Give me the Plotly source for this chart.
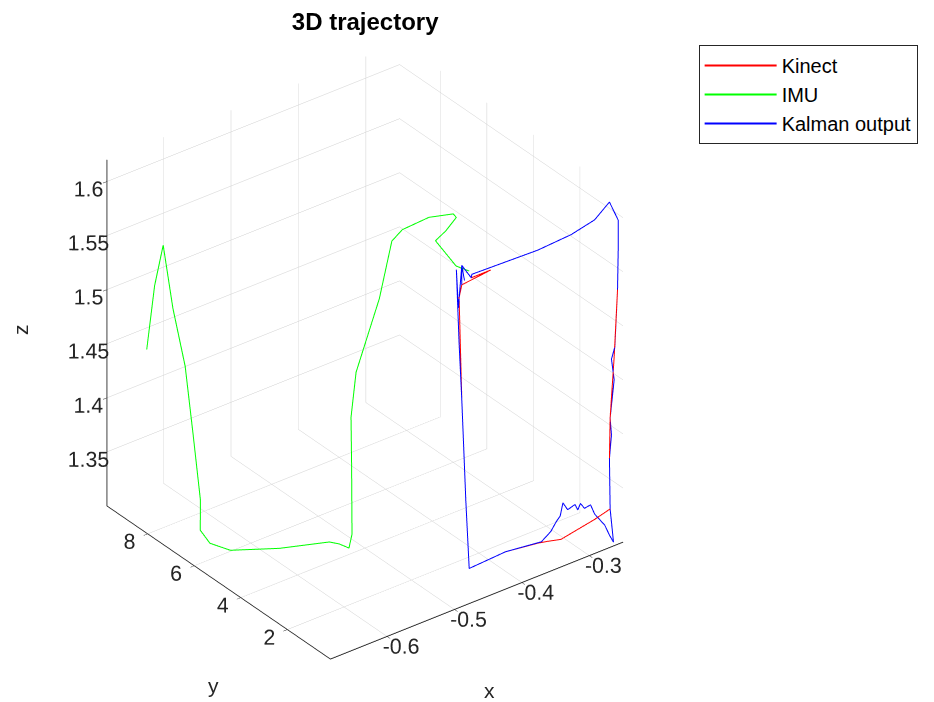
import plotly.graph_objects as go

# Kinect reference trajectory (metres)
kinect_x = [-0.484, -0.441, -0.470, -0.469, -0.419, -0.371, -0.322, -0.287, -0.265,
            -0.252, -0.252, -0.253, -0.258, -0.264, -0.265, -0.264,
            -0.287, -0.312, -0.337, -0.356, -0.371, -0.419, -0.473,
            -0.478, -0.484, -0.488, -0.484]
kinect_y = [0.30, 0.30, 0.30, 0.30, 0.30, 0.30, 0.30, 0.30, 0.30,
            0.30, 0.30, 0.30, 0.30, 0.30, 0.30, 0.30,
            0.30, 0.30, 0.30, 0.30, 0.30, 0.30, 0.30,
            0.30, 0.30, 0.30, 0.30]
kinect_z = [1.594, 1.597, 1.597, 1.600, 1.599, 1.598, 1.600, 1.605, 1.616,
            1.596, 1.569, 1.532, 1.471, 1.416, 1.379, 1.332,
            1.328, 1.325, 1.322, 1.325, 1.327, 1.331, 1.329,
            1.393, 1.488, 1.583, 1.594]

# IMU dead-reckoning trajectory (drifts along y)
imu_x = [-0.473, -0.471, -0.475, -0.453, -0.431, -0.429, -0.455, -0.488, -0.500,
         -0.512, -0.524, -0.540, -0.544, -0.540, -0.536, -0.537, -0.545, -0.553,
         -0.607, -0.660, -0.677, -0.683, -0.678, -0.676, -0.674, -0.679, -0.680,
         -0.653, -0.625]
imu_y = [0.30, 0.92, 1.69, 1.88, 2.07, 2.26, 2.55, 2.74, 2.84,
         3.03, 3.13, 3.22, 3.32, 3.41, 3.51, 3.61, 3.80, 3.99,
         4.57, 5.14, 5.53, 5.77, 5.91, 6.29, 6.68, 7.06, 7.45,
         8.60, 9.75]
imu_z = [1.604, 1.599, 1.612, 1.613, 1.617, 1.617, 1.616, 1.610, 1.601,
         1.548, 1.519, 1.484, 1.442, 1.393, 1.329, 1.315, 1.318, 1.319,
         1.318, 1.321, 1.326, 1.336, 1.361, 1.417, 1.472, 1.521, 1.574,
         1.513, 1.430]

# Kalman filter fused output
kalman_x = [-0.484, -0.484, -0.470, -0.469, -0.419, -0.371, -0.322, -0.287, -0.265,
            -0.252, -0.252, -0.253, -0.257, -0.262, -0.258, -0.264, -0.262, -0.265, -0.264,
            -0.259, -0.265, -0.272, -0.287, -0.293, -0.302, -0.308, -0.312, -0.316,
            -0.327, -0.334, -0.338, -0.344, -0.352, -0.366,
            -0.419, -0.473, -0.478, -0.484, -0.488, -0.492, -0.489, -0.484, -0.480]
kalman_y = [0.30] * len(kalman_x)
kalman_z = [1.594, 1.612, 1.597, 1.600, 1.599, 1.598, 1.600, 1.605, 1.616,
            1.596, 1.569, 1.532, 1.480, 1.470, 1.450, 1.416, 1.400, 1.379, 1.332,
            1.300, 1.308, 1.319, 1.333, 1.343, 1.342, 1.348, 1.343, 1.349,
            1.347, 1.355, 1.344, 1.340, 1.333, 1.327,
            1.331, 1.329, 1.393, 1.488, 1.541, 1.610, 1.574, 1.612, 1.597]

x_ticks = [-0.6, -0.5, -0.4, -0.3]
y_ticks = [2, 4, 6, 8]
z_ticks = [1.35, 1.4, 1.45, 1.5, 1.55, 1.6]

x_range = [-0.684, -0.250]
y_range = [0.15, 9.75]
z_range = [1.30, 1.62]

FONT = "Liberation Sans, Arial, sans-serif"
TXT = "#262626"

fig = go.Figure()
fig.add_trace(go.Scatter3d(x=kinect_x, y=kinect_y, z=kinect_z, mode="lines",
                           name="Kinect", line=dict(color="#ff0000", width=2)))
fig.add_trace(go.Scatter3d(x=imu_x, y=imu_y, z=imu_z, mode="lines",
                           name="IMU", line=dict(color="#00ff00", width=2)))
fig.add_trace(go.Scatter3d(x=kalman_x, y=kalman_y, z=kalman_z, mode="lines",
                           name="Kalman output", line=dict(color="#0000ff", width=2)))


def axis(rng, ticks):
    return dict(
        title=dict(text=""),
        range=rng, autorange=False,
        tickvals=ticks, ticktext=[f"{t:g}" for t in ticks],
        tickfont=dict(family=FONT, size=16, color=TXT),
        tickangle=0,
        showgrid=True, gridcolor="#cfcfcf", gridwidth=1,
        showbackground=False, zeroline=False,
        showline=True, linecolor="#262626", linewidth=2,
        ticks="outside", ticklen=5, tickcolor="#262626",
        showspikes=False,
    )


# axis names placed beside the three labelled box edges
axis_names = [
    dict(text="x", x=490 / 934, y=1 - 690 / 702, textangle=0),
    dict(text="y", x=213 / 934, y=1 - 685 / 702, textangle=0),
    dict(text="z", x=20 / 934, y=1 - 330 / 702, textangle=-90),
]

fig.update_layout(
    width=934, height=702,
    paper_bgcolor="white",
    margin=dict(l=0, r=0, t=0, b=0),
    title=dict(text="<b>3D trajectory</b>", x=0.391, xanchor="center",
               y=0.969, yanchor="middle",
               font=dict(family=FONT, size=24, color="#000000")),
    scene=dict(
        domain=dict(x=[0.0, 0.782], y=[0.0, 1.0]),
        xaxis=axis(x_range, x_ticks),
        yaxis=axis(y_range, y_ticks),
        zaxis=axis(z_range, z_ticks),
        aspectmode="manual",
        aspectratio=dict(x=1.049, y=1.049, z=1.157),
        camera=dict(
            projection=dict(type="orthographic"),
            up=dict(x=0, y=0, z=1),
            center=dict(x=0, y=0, z=0),
            eye=dict(x=-0.517 * 2.0, y=-0.677 * 2.0, z=0.523 * 2.0),
        ),
        bgcolor="white",
    ),
    annotations=[
        dict(text=a["text"], x=a["x"], y=a["y"], xref="paper", yref="paper",
             xanchor="center", yanchor="middle", showarrow=False,
             textangle=a["textangle"],
             font=dict(family=FONT, size=21, color=TXT))
        for a in axis_names
    ],
    legend=dict(
        x=0.748, y=0.936, xanchor="left", yanchor="top",
        bgcolor="white", bordercolor="#262626", borderwidth=1,
        font=dict(family=FONT, size=20, color="#000000"),
        itemwidth=72,
    ),
    showlegend=True,
)

fig.write_html("out.html")
